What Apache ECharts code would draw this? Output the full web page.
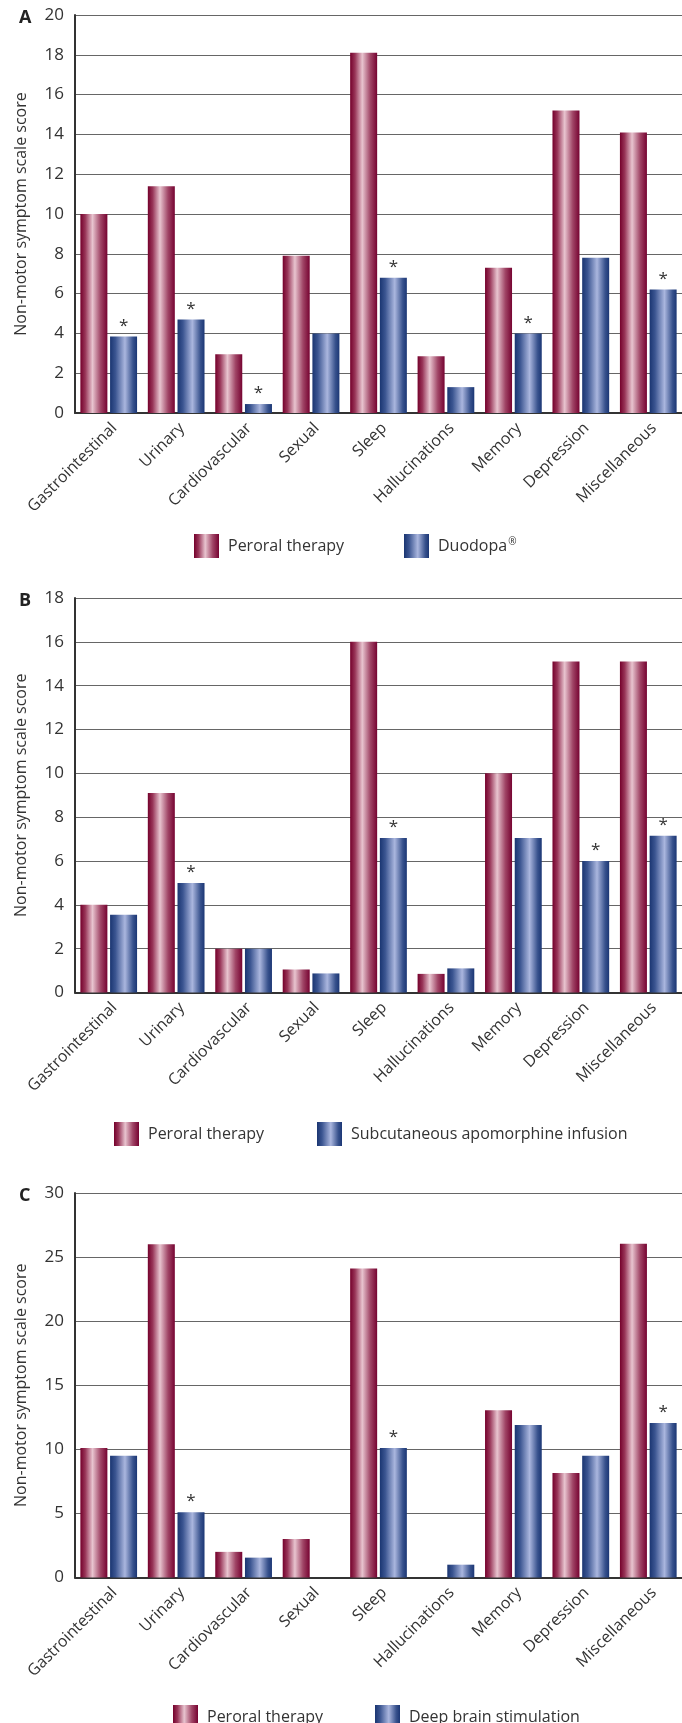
<!DOCTYPE html>
<html>
<head>
<meta charset="utf-8">
<script src="https://cdn.jsdelivr.net/npm/echarts@6/dist/echarts.min.js"></script>
<style>
html,body{margin:0;padding:0;background:#fff;}
#chart{width:682px;height:1723px;}
</style>
</head>
<body>
<div id="chart"></div>
<script>
// ---- data ----
const categories = ['Gastrointestinal','Urinary','Cardiovascular','Sexual','Sleep','Hallucinations','Memory','Depression','Miscellaneous'];
const panelLetters = ['A','B','C'];
const comparatorNames = ['Duodopa®','Subcutaneous apomorphine infusion','Deep brain stimulation'];
const peroralName = 'Peroral therapy';

const peroralA = [10.0, 11.4, 2.95, 7.9, 18.1, 2.85, 7.3, 15.2, 14.1];
const duodopaA = [3.85, 4.7, 0.45, 4.0, 6.8, 1.3, 4.0, 7.8, 6.2];
const starsA   = [1, 1, 1, 0, 1, 0, 1, 0, 1];

const peroralB = [4.0, 9.1, 2.0, 1.05, 16.0, 0.85, 10.0, 15.1, 15.1];
const apoB     = [3.55, 5.0, 2.0, 0.87, 7.05, 1.1, 7.05, 6.0, 7.15];
const starsB   = [0, 1, 0, 0, 1, 0, 0, 1, 1];

const peroralC = [10.1, 26.0, 2.0, 3.0, 24.1, 0, 13.05, 8.15, 26.05];
const dbsC     = [9.5, 5.1, 1.55, 0, 10.1, 1.0, 11.9, 9.5, 12.05];
const starsC   = [0, 1, 0, 0, 1, 0, 0, 0, 1];

const yMax  = [20, 18, 30];
const yStep = [2, 2, 5];

// ---- layout ----
const grids = [
  {left: 75, right: 0, top: 15, height: 398},
  {left: 75, right: 0, top: 598, height: 394.5},
  {left: 75, right: 0, top: 1193, height: 384.5}
];
const legendPos = [
  {top: 529, red: 189, blue: 399},
  {top: 1117, red: 109, blue: 312},
  {top: 1700, red: 168, blue: 370}
];

const FONT = '"Open Sans", "Noto Sans", sans-serif';
const TXT = '#333';

const redGrad = {type:'linear', x:0, y:0, x2:1, y2:0, colorStops:[
  {offset:0, color:'#74002b'},
  {offset:0.18, color:'#983558'},
  {offset:0.45, color:'#e8c4cf'},
  {offset:0.75, color:'#a04566'},
  {offset:1, color:'#760331'}
]};
const blueGrad = {type:'linear', x:0, y:0, x2:1, y2:0, colorStops:[
  {offset:0, color:'#1a3571'},
  {offset:0.2, color:'#3b5591'},
  {offset:0.55, color:'#aab6de'},
  {offset:0.85, color:'#38528d'},
  {offset:1, color:'#1b3674'}
]};

const peroralSets = [peroralA, peroralB, peroralC];
const compSets = [duodopaA, apoB, dbsC];
const starSets = [starsA, starsB, starsC];

const option = {
  animation: false,
  backgroundColor: '#fff',
  textStyle: {fontFamily: FONT, color: TXT},
  title: panelLetters.map((l, i) => ({
    text: l, left: 14, top: grids[i].top - 11,
    textStyle: {fontFamily: FONT, fontWeight: 'bold', fontSize: 18, color: '#222'}
  })),
  grid: grids,
  legend: [],
  xAxis: grids.map((g, i) => ({
    type: 'category', gridIndex: i, data: categories,
    axisLine: {lineStyle: {color: '#333', width: 2}},
    axisTick: {show: false},
    axisLabel: {interval: 0, rotate: 45, fontSize: 16, color: TXT, fontFamily: FONT, margin: 7, verticalAlign: 'top'}
  })),
  yAxis: grids.map((g, i) => ({
    type: 'value', gridIndex: i, min: 0, max: yMax[i], interval: yStep[i],
    name: 'Non-motor symptom scale score', nameLocation: 'middle', nameGap: 46,
    nameTextStyle: {fontSize: 16, color: TXT, fontFamily: FONT},
    axisLine: {show: true, lineStyle: {color: '#333', width: 2}},
    axisTick: {show: false},
    axisLabel: {fontSize: 17, color: TXT, fontFamily: FONT, margin: 11},
    splitLine: {lineStyle: {color: '#666', width: 1.2}}
  })),
  series: []
};

for (let i = 0; i < 3; i++) {
  option.series.push({
    type: 'bar', name: peroralName, xAxisIndex: i, yAxisIndex: i,
    data: peroralSets[i], barWidth: 27, barGap: '10%',
    itemStyle: {color: redGrad}
  });
  option.series.push({
    type: 'bar', name: comparatorNames[i], xAxisIndex: i, yAxisIndex: i,
    data: compSets[i].map((v, k) => ({
      value: v,
      label: {show: !!starSets[i][k], position: 'top', distance: 2, formatter: '*',
              fontSize: 17, color: '#333', fontFamily: FONT}
    })),
    barWidth: 27, barGap: '10%',
    itemStyle: {color: blueGrad}
  });
  const lp = legendPos[i];
  const common = {
    top: lp.top, itemWidth: 25, itemHeight: 24, icon: 'rect', orient: 'horizontal',
    selectedMode: false,
    textStyle: {fontSize: 16, color: TXT, fontFamily: FONT, padding: [0,0,0,4],
      rich: {sup: {fontSize: 10, verticalAlign: 'top', color: TXT, fontFamily: FONT, padding: [0,0,7,1]}}}
  };
  option.legend.push(Object.assign({}, common, {left: lp.red, data: [peroralName]}));
  option.legend.push(Object.assign({}, common, {left: lp.blue, data: [comparatorNames[i]],
    formatter: n => n.indexOf('®') >= 0 ? n.replace('®', '{sup|®}') : n}));
}

const chart = echarts.init(document.getElementById('chart'), null, {renderer: 'canvas'});
chart.setOption(option);
</script>
</body>
</html>
